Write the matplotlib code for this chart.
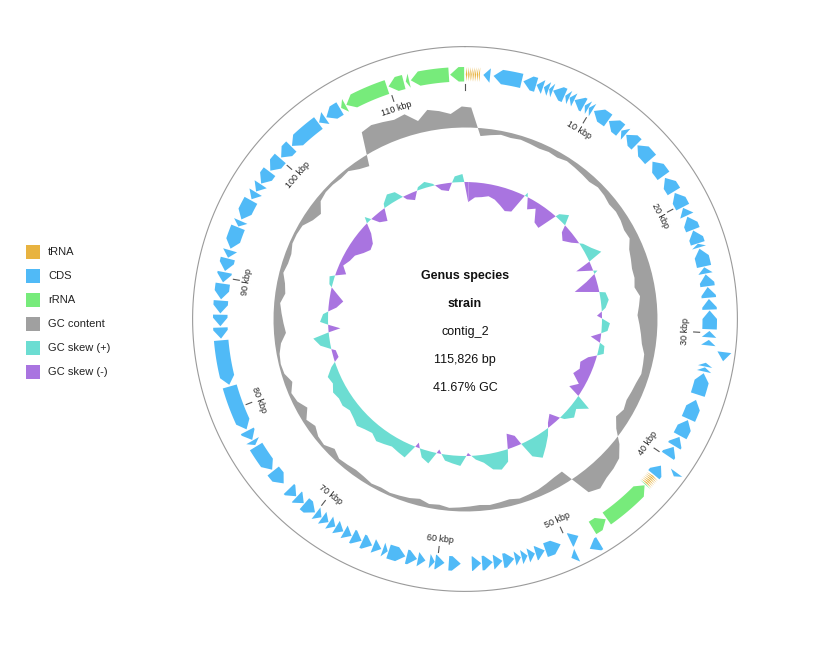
import numpy as np
import matplotlib
matplotlib.use("Agg")
import matplotlib.pyplot as plt
from matplotlib.patches import Rectangle

plt.rcParams["font.family"] = ["Liberation Sans", "DejaVu Sans"]

genome_length = 115826
window_size = 1000

# features as (start, end) in bp
cds_reverse = [
    (1383, 1898), (2156, 4311), (4440, 5437), (5470, 5984), (6049, 6435), (6467, 6757),
    (6789, 7722), (7786, 8108), (8140, 8526), (8558, 9363), (9427, 9749), (9781, 10103),
    (10231, 11518), (11583, 12709), (12773, 13191), (13256, 14317), (14414, 15862),
    (16087, 17438), (17631, 18854), (18983, 20205), (20270, 20913), (21010, 22071),
    (22136, 23165), (23197, 23487), (23584, 24967), (25031, 25514), (25578, 26479),
    (26544, 27348), (27444, 28249), (28313, 29729), (29857, 30340), (30533, 30951),
    (32271, 32560), (32624, 32946), (33075, 34748), (35166, 36710), (36807, 38126),
    (38223, 38995), (39092, 39896), (40797, 41665), (49033, 49741), (50513, 51736),
    (51800, 52508), (52572, 53087), (53151, 53602), (53666, 54116), (54181, 55018),
    (55082, 55758), (55822, 56626), (56691, 57399), (58235, 59136), (59458, 60165),
    (60197, 60584), (60905, 61484), (61549, 62353), (62450, 63769), (63833, 64219),
    (64348, 64991), (65088, 65892), (65957, 66729), (66793, 67437), (67501, 68145),
    (68209, 68756), (68820, 69399), (69464, 69979), (70075, 71105), (71169, 71877),
    (71941, 72713), (73292, 74515), (74644, 76767), (76896, 77282), (77346, 78119),
    (78247, 81722), (81851, 85261), (85390, 86226), (86323, 87192), (87288, 88253),
    (88350, 89540), (89637, 90409), (90505, 91471), (91535, 92114), (92243, 93948),
    (94012, 94463), (94592, 96200), (96297, 96908), (96973, 97616), (97681, 98774),
    (98871, 100061), (100158, 101283), (101348, 103986), (104051, 104630), (104726, 105949),
]
cds_forward = [(31305, 31949), (40539, 40861), (47939, 48744), (49741, 50191)]
rrna_reverse = [
    (42590, 42650), (42727, 46524), (46620, 47811), (106045, 106431), (106496, 109842),
    (109971, 111161), (111322, 111580), (111709, 114605), (114702, 115762),
]
trna_reverse = [
    (60, 150), (200, 285), (330, 420), (470, 555), (610, 700), (750, 835), (890, 980),
    (1030, 1120), (41770, 41855), (41900, 41990), (42035, 42120), (42170, 42260),
    (42305, 42390), (42440, 42530),
]

# GC content (%) and GC skew per 1 kbp window
gc_content = [
    51.7, 37.7, 38.7, 39.7, 39.2, 39.7, 39.2, 38.7, 39.2, 38.7,
    39.7, 39.2, 38.7, 38.2, 39.2, 38.7, 37.7, 38.2, 37.7, 36.7,
    37.2, 34.7, 33.7, 32.7, 32.7, 31.7, 33.7, 32.7, 31.7, 32.7,
    33.7, 34.7, 36.7, 37.2, 37.7, 36.7, 36.2, 35.7, 36.7, 35.2,
    38.7, 44.7, 49.2, 50.7, 51.7, 53.7, 51.7, 35.7, 36.2, 37.2,
    38.2, 38.7, 39.2, 38.2, 38.7, 39.2, 38.7, 39.2, 39.7, 40.2,
    39.2, 39.7, 38.2, 39.2, 39.7, 40.2, 39.7, 40.2, 39.2, 38.7,
    39.2, 39.7, 37.7, 40.2, 39.7, 37.7, 39.7, 36.2, 39.2, 40.2,
    37.7, 40.2, 40.7, 40.2, 38.7, 35.7, 36.7, 37.7, 38.7, 36.7,
    37.7, 39.7, 38.7, 38.7, 40.2, 40.2, 39.7, 36.7, 35.2, 39.2,
    40.2, 40.2, 39.7, 40.2, 37.7, 36.2, 52.7, 53.7, 52.7, 51.7,
    52.7, 47.7, 52.2, 50.7, 48.7, 52.2,
]
gc_skew = [
    -0.20, -0.15, -0.14, -0.12, -0.14, -0.18, -0.22, -0.20, 0.04, -0.11,
    -0.06, -0.18, -0.20, 0.04, 0.10, -0.07, -0.12, -0.06, 0.03, 0.08,
    0.15, -0.16, 0.04, -0.10, -0.24, 0.06, 0.08, 0.04, -0.05, 0.08,
    0.06, -0.10, 0.05, 0.06, -0.08, -0.14, -0.12, -0.16, -0.06, -0.13,
    0.16, 0.06, 0.10, 0.04, -0.10, -0.04, 0.06, 0.14, 0.22, 0.16,
    -0.10, -0.15, 0.12, 0.18, 0.16, 0.08, 0.04, -0.03, 0.10, 0.08,
    0.06, -0.04, 0.12, 0.08, -0.05, 0.14, 0.12, 0.10, 0.12, 0.14,
    0.10, 0.12, 0.15, 0.12, 0.10, 0.13, 0.12, 0.14, 0.10, 0.12,
    0.05, -0.05, -0.04, 0.10, 0.16, -0.12, 0.08, 0.05, -0.08, -0.14,
    -0.06, 0.03, 0.05, -0.10, -0.04, -0.08, -0.10, -0.16, -0.20, -0.18,
    -0.10, 0.06, -0.08, -0.12, 0.04, 0.10, 0.08, -0.04, -0.08, 0.03,
    0.06, 0.02, -0.06, -0.08, 0.06, 0.08,
]
gc_average = 41.67

tick_positions = [0, 10000, 20000, 30000, 40000, 50000, 60000, 70000, 80000, 90000, 100000, 110000]
tick_labels = ["", "10 kbp", "20 kbp", "30 kbp", "40 kbp", "50 kbp", "60 kbp",
               "70 kbp", "80 kbp", "90 kbp", "100 kbp", "110 kbp"]

legend_names = ["tRNA", "CDS", "rRNA", "GC content", "GC skew (+)", "GC skew (-)"]
legend_colors = ["#E8B340", "#50BAF7", "#77EB7B", "#A0A0A0", "#6CDDD2", "#A974E0"]
center_lines = ["Genus species", "strain", "contig_2", "115,826 bp", "41.67% GC"]

c_trna, c_cds, c_rrna, c_gc, c_pos, c_neg = legend_colors

W, H = 815, 668
cx, cy, R = 465, 319, 273

fig = plt.figure(figsize=(W / 100, H / 100), dpi=100)
ax = fig.add_axes([(cx - R) / W, 1 - (cy + R) / H, 2 * R / W, 2 * R / H], projection="polar")
ax.set_theta_zero_location("N")
ax.set_theta_direction(-1)
ax.set_ylim(0, R)
ax.set_axis_off()


def to_rad(pos):
    return np.asarray(pos, dtype=float) / genome_length * 2 * np.pi


HEAD = np.deg2rad(2.0)


def draw_feature(start, end, strand, r0, r1, color):
    t0, t1 = to_rad(start), to_rad(end)
    rm = (r0 + r1) / 2
    head = min(HEAD, t1 - t0)
    n = max(2, int((t1 - t0) / 0.004) + 2)
    if strand > 0:
        body = np.linspace(t0, t1 - head, n)
        th = np.concatenate([body, [t1], body[::-1]])
    else:
        body = np.linspace(t0 + head, t1, n)
        th = np.concatenate([[t0], body, body[::-1]])
    rr = np.concatenate([np.full(n, r1), [rm], np.full(n, r0)]) if strand > 0 else \
        np.concatenate([[rm], np.full(n, r1), np.full(n, r0)])
    ax.fill(th, rr, color=color, lw=0)


# outer circle
circ = np.linspace(0, 2 * np.pi, 720)
ax.plot(circ, np.full_like(circ, R - 0.6), color="#9A9A9A", lw=0.8, clip_on=False)

# feature tracks
for s, e in cds_reverse:
    draw_feature(s, e, -1, 237.5, 252, c_cds)
for s, e in rrna_reverse:
    draw_feature(s, e, -1, 237.5, 252, c_rrna)
for s, e in trna_reverse:
    draw_feature(s, e, -1, 237.5, 252, c_trna)
for s, e in cds_forward:
    draw_feature(s, e, 1, 254.5, 268.5, c_cds)

# ticks
for pos, lab in zip(tick_positions, tick_labels):
    t = to_rad(pos)
    ax.plot([t, t], [229, 235], color="#555555", lw=0.8)
    if lab:
        deg = pos / genome_length * 360
        rot = -deg if (deg <= 90 or deg >= 270) else 180 - deg
        ax.text(t, 221, lab, rotation=rot, rotation_mode="anchor", ha="center",
                va="center", fontsize=6.5, color="#222222")

# GC content and GC skew
centers = np.minimum(np.arange(len(gc_content)) * window_size + window_size / 2, genome_length)
theta = to_rad(np.append(centers, centers[0] + genome_length))
gc_vals = np.append(gc_content, gc_content[0])
sk_vals = np.append(gc_skew, gc_skew[0])

GC_R, GC_SCALE = 192, 2.0
gc_dev = (gc_vals - gc_average) * GC_SCALE
ax.fill_between(theta, GC_R, GC_R + gc_dev, color=c_gc, lw=0)

SK_R, SK_SCALE = 137, 100
sk = sk_vals * SK_SCALE
ax.fill_between(theta, SK_R, SK_R + sk, where=sk >= 0, interpolate=True, color=c_pos, lw=0)
ax.fill_between(theta, SK_R, SK_R + sk, where=sk <= 0, interpolate=True, color=c_neg, lw=0)

# centre text
for i, line in enumerate(center_lines):
    y = 276 + 28 * i
    fig.text(cx / W, 1 - y / H, line, ha="center", va="center", fontsize=9,
             fontweight="bold" if i < 2 else "normal", color="#111111")

# legend
for i, (name, col) in enumerate(zip(legend_names, legend_colors)):
    yc = 252 + 24 * i
    fig.add_artist(Rectangle((26 / W, 1 - (yc + 7) / H), 14 / W, 14 / H,
                             transform=fig.transFigure, color=col, lw=0))
    fig.text(48 / W, 1 - yc / H, name, ha="left", va="center", fontsize=8, color="#222222")

fig.savefig("out.png", dpi=100, facecolor="white")
